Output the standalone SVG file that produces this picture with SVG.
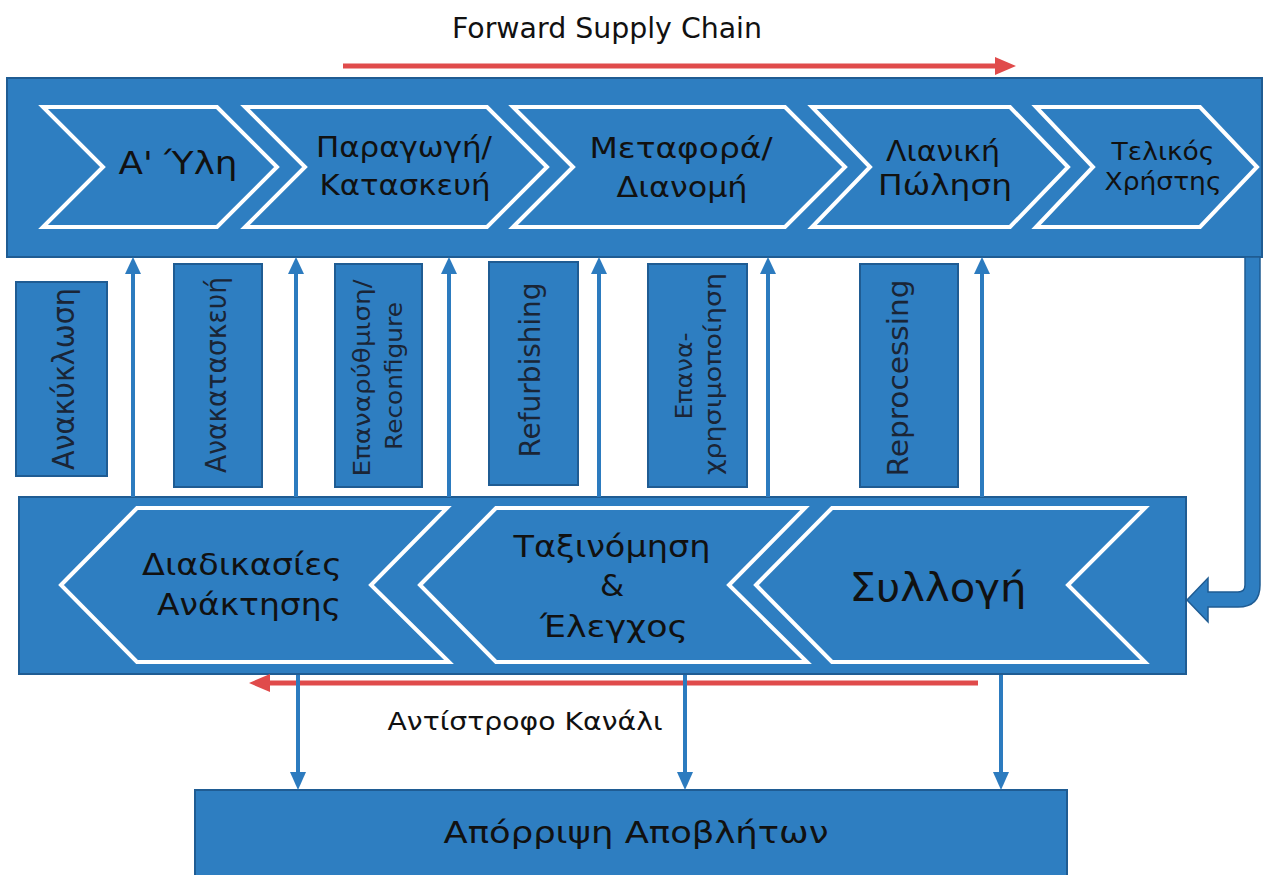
<svg xmlns="http://www.w3.org/2000/svg" width="1265" height="875" viewBox="0 0 1265 875">
<defs>
<style>
.band{fill:#2E7EC1;stroke:#1F5C93;stroke-width:2}
.box{fill:#2E7EC1;stroke:#1F5C93;stroke-width:2}
.chev{fill:#2E7EC1;stroke:#FFFFFF;stroke-width:4;stroke-linejoin:miter}
.t{font-family:"DejaVu Sans",sans-serif;fill:#111111;text-anchor:middle}
.v{font-family:"DejaVu Sans",sans-serif;fill:#1A2536;text-anchor:middle}
.lbl{font-family:"DejaVu Sans",sans-serif;fill:#111111;text-anchor:middle}
.up{stroke:#2C7BBF;stroke-width:4;fill:none}
.ah{fill:#2C7BBF}
.red{stroke:#E04B4B;stroke-width:5;fill:none}
.rah{fill:#E04B4B}
</style>
</defs>
<rect width="1265" height="875" fill="#FFFFFF"/>

<g id="forward-label">
<text class="lbl" x="607" y="38" font-size="28" textLength="310" lengthAdjust="spacingAndGlyphs">Forward Supply Chain</text>
</g>

<g id="top-band">
<rect class="band" x="7" y="78" width="1255" height="179"/>
</g>

<g id="n-raw">
<polygon class="chev" points="43,107 217,107 277,167 217,227 43,227 103,167"/>
<text class="t" x="178" y="174" font-size="32" textLength="119" lengthAdjust="spacingAndGlyphs">Α' Ύλη</text>
</g>
<g id="n-production">
<polygon class="chev" points="245,107 487,107 547,167 487,227 245,227 305,167"/>
<text class="t" x="404" y="157" font-size="29" textLength="176" lengthAdjust="spacingAndGlyphs">Παραγωγή/</text>
<text class="t" x="405" y="195" font-size="29" textLength="171" lengthAdjust="spacingAndGlyphs">Κατασκευή</text>
</g>
<g id="n-transport">
<polygon class="chev" points="513,107 785,107 845,167 785,227 513,227 573,167"/>
<text class="t" x="681" y="158" font-size="29" textLength="183" lengthAdjust="spacingAndGlyphs">Μεταφορά/</text>
<text class="t" x="682" y="197" font-size="29" textLength="131" lengthAdjust="spacingAndGlyphs">Διανομή</text>
</g>
<g id="n-retail">
<polygon class="chev" points="812,107 1010,107 1068,167 1010,227 812,227 870,167"/>
<text class="t" x="943" y="161" font-size="28" textLength="114" lengthAdjust="spacingAndGlyphs">Λιανική</text>
<text class="t" x="945" y="195" font-size="28" textLength="134" lengthAdjust="spacingAndGlyphs">Πώληση</text>
</g>
<g id="n-enduser">
<polygon class="chev" points="1036,107 1200,107 1257,167 1200,227 1036,227 1093,167"/>
<text class="t" x="1163" y="160" font-size="25" textLength="103" lengthAdjust="spacingAndGlyphs">Τελικός</text>
<text class="t" x="1163" y="190" font-size="25" textLength="117" lengthAdjust="spacingAndGlyphs">Χρήστης</text>
</g>

<g id="n-recycling">
<rect class="box" x="16" y="282" width="91" height="194"/>
<text class="v" transform="translate(74,379) rotate(-90)" font-size="30" textLength="182" lengthAdjust="spacingAndGlyphs">Ανακύκλωση</text>
</g>
<g id="n-remanufacture">
<rect class="box" x="174" y="264" width="88" height="223"/>
<text class="v" transform="translate(226,375) rotate(-90)" font-size="29" textLength="196" lengthAdjust="spacingAndGlyphs">Ανακατασκευή</text>
</g>
<g id="n-reconfigure">
<rect class="box" x="335" y="264" width="87" height="223"/>
<text class="v" transform="translate(370,378) rotate(-90)" font-size="23" textLength="197" lengthAdjust="spacingAndGlyphs">Επαναρύθμιση/</text>
<text class="v" transform="translate(402,376) rotate(-90)" font-size="23" textLength="148" lengthAdjust="spacingAndGlyphs">Reconfigure</text>
</g>
<g id="n-refurbishing">
<rect class="box" x="489" y="262" width="89" height="223"/>
<text class="v" transform="translate(540,370) rotate(-90)" font-size="28" textLength="175" lengthAdjust="spacingAndGlyphs">Refurbishing</text>
</g>
<g id="n-reuse">
<rect class="box" x="648" y="264" width="99" height="223"/>
<text class="v" transform="translate(692,376) rotate(-90)" font-size="23" textLength="87" lengthAdjust="spacingAndGlyphs">Επανα-</text>
<text class="v" transform="translate(721,374) rotate(-90)" font-size="23" textLength="202" lengthAdjust="spacingAndGlyphs">χρησιμοποίηση</text>
</g>
<g id="n-reprocessing">
<rect class="box" x="860" y="264" width="98" height="223"/>
<text class="v" transform="translate(908,378) rotate(-90)" font-size="29" textLength="197" lengthAdjust="spacingAndGlyphs">Reprocessing</text>
</g>

<g id="bottom-band">
<rect class="band" x="19" y="497" width="1167" height="177"/>
</g>
<g id="n-recovery">
<polygon class="chev" points="61,585 137,508 447,508 371,585 449,662 137,662"/>
<text class="t" x="242" y="575" font-size="31" textLength="200" lengthAdjust="spacingAndGlyphs">Διαδικασίες</text>
<text class="t" x="249" y="615" font-size="31" textLength="184" lengthAdjust="spacingAndGlyphs">Ανάκτησης</text>
</g>
<g id="n-sorting">
<polygon class="chev" points="420,585 496,508 805,508 729,585 807,662 496,662"/>
<text class="t" x="612" y="557" font-size="31" textLength="197" lengthAdjust="spacingAndGlyphs">Ταξινόμηση</text>
<text class="t" x="612" y="596" font-size="31">&amp;</text>
<text class="t" x="614" y="637" font-size="31" textLength="148" lengthAdjust="spacingAndGlyphs">Έλεγχος</text>
</g>
<g id="n-collection">
<polygon class="chev" points="756,585 832,508 1145,508 1068,585 1145,662 832,662"/>
<text class="t" x="938" y="601" font-size="39" textLength="177" lengthAdjust="spacingAndGlyphs">Συλλογή</text>
</g>

<g id="n-disposal">
<rect class="box" x="195" y="790" width="872" height="90"/>
<text class="t" x="636" y="843" font-size="31" textLength="385" lengthAdjust="spacingAndGlyphs">Απόρριψη Αποβλήτων</text>
</g>

<g id="reverse-label">
<text class="lbl" x="525" y="730" font-size="24" textLength="275" lengthAdjust="spacingAndGlyphs">Αντίστροφο Κανάλι</text>
</g>

<g id="connectors">
<line class="red" x1="343" y1="66" x2="997" y2="66"/>
<polygon class="rah" points="995,57 1016,66 995,75"/>

<line class="up" x1="133" y1="497" x2="133" y2="272"/>
<polygon class="ah" points="125,274 133,257 141,274"/>
<line class="up" x1="296" y1="497" x2="296" y2="272"/>
<polygon class="ah" points="288,274 296,257 304,274"/>
<line class="up" x1="449" y1="497" x2="449" y2="272"/>
<polygon class="ah" points="441,274 449,257 457,274"/>
<line class="up" x1="599" y1="497" x2="599" y2="272"/>
<polygon class="ah" points="591,274 599,257 607,274"/>
<line class="up" x1="768" y1="497" x2="768" y2="272"/>
<polygon class="ah" points="760,274 768,257 776,274"/>
<line class="up" x1="982" y1="497" x2="982" y2="272"/>
<polygon class="ah" points="974,274 982,257 990,274"/>

<path d="M1245,257 L1260,257 L1260,585 Q1260,607 1238,607 L1208,607 L1208,622 L1187,600 L1208,578 L1208,592 L1238,592 Q1245,592 1245,585 Z" fill="#2E7EC1" stroke="#1F5C93" stroke-width="1.5"/>

<line class="red" x1="978" y1="683" x2="268" y2="683"/>
<polygon class="rah" points="270,674 249,683 270,692"/>

<line class="up" x1="298" y1="675" x2="298" y2="774"/>
<polygon class="ah" points="290,772 298,790 306,772"/>
<line class="up" x1="685" y1="675" x2="685" y2="774"/>
<polygon class="ah" points="677,772 685,790 693,772"/>
<line class="up" x1="1001" y1="675" x2="1001" y2="774"/>
<polygon class="ah" points="993,772 1001,790 1009,772"/>
</g>
</svg>
